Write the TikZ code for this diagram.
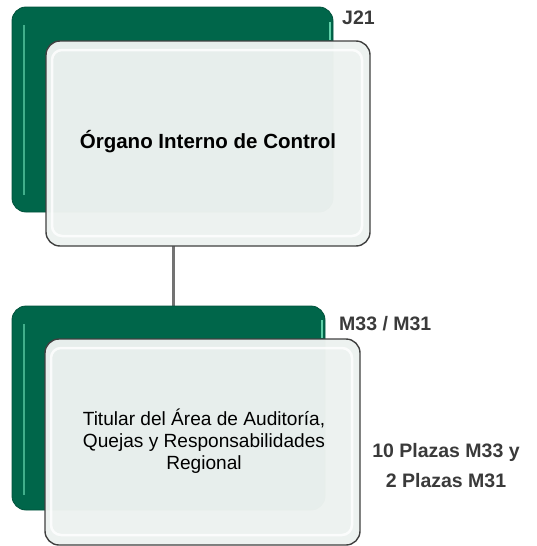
\documentclass[tikz,border=0pt]{standalone}
\usepackage{fontspec}
\setmainfont{Liberation Sans}
\usetikzlibrary{positioning}
\definecolor{grn}{HTML}{00664A}
\definecolor{grnlight}{HTML}{5FCFA8}
\definecolor{boxfill}{HTML}{EDF2F0}
\definecolor{lblgray}{HTML}{3A3A3A}
\definecolor{edge}{HTML}{404040}
\tikzset{
  greenbox/.style={draw=grn!80!black, fill=grn, rounded corners=14pt, line width=0.8pt},
  whitebox/.style={draw=edge, fill=boxfill, fill opacity=0.975, rounded corners=14pt, line width=1.4pt},
  innerglow/.style={draw=white, line width=2.5pt, rounded corners=10pt, opacity=0.8},
  grade/.style={font=\bfseries\fontsize{19.5}{22}\selectfont, text=lblgray, anchor=west, inner sep=0pt},
  conn/.style={draw=gray!90!black, line width=3pt}
}
\begin{document}
\begin{tikzpicture}[x=1pt,y=-1pt]
\useasboundingbox (0,0) rectangle (537,546);
% connector
\coordinate (ctop) at (173,246);
\coordinate (cbot) at (173,306);
\draw[conn] (ctop) -- (cbot);
% top group
\draw[greenbox] (12,7) rectangle (333,212);
\draw[grnlight, line width=2pt, opacity=0.7] (24,25) -- (24,195);
\draw[grnlight, line width=2pt] (330,22) -- (330,40);
\draw[whitebox] (46,41) rectangle (370,246);
\draw[innerglow] (52,50) rectangle (362,236);
\node[font=\bfseries\fontsize{20.5}{24}\selectfont, inner sep=0pt] (oic) at (208,142) {Órgano Interno de Control};
\node[grade] (j21) at (342,18) {J21};
% bottom group
\draw[greenbox] (12,306) rectangle (325,510);
\draw[grnlight, line width=2pt, opacity=0.7] (24,324) -- (24,495);
\draw[grnlight, line width=2pt] (322,320) -- (322,338);
\draw[whitebox] (45,339) rectangle (360,545);
\draw[innerglow] (51,348) rectangle (352,535);
\node[font=\fontsize{19.1}{21.8}\selectfont, align=center, inner sep=0pt] (tit) at (204,441) {Titular del Área de Auditoría,\\Quejas y Responsabilidades\\Regional};
\node[grade] (m33) at (339,324) {M33 / M31};
\node[font=\bfseries\fontsize{19.5}{30}\selectfont, text=lblgray, align=center, inner sep=0pt] (plz) at (446,466) {10 Plazas M33 y\\2 Plazas M31};
\end{tikzpicture}
\end{document}
